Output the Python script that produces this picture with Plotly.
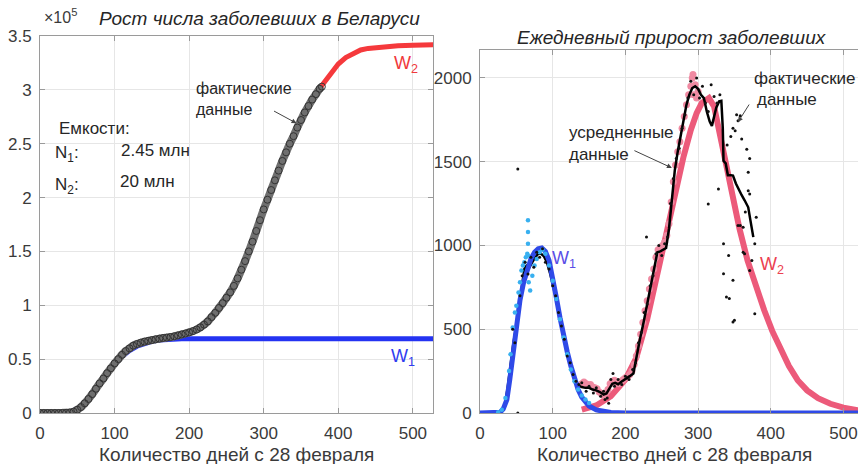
import plotly.graph_objects as go

FONT = "Liberation Sans, Arial, sans-serif"

# ---------------- Left panel: cumulative cases (x10^5) ----------------
cum_days = list(range(0, 376, 5)) + [378]
cum_cases_e5 = [0, 0, 0, 0, 0, 0, 0.001, 0.002, 0.004, 0.012,
                0.03, 0.055, 0.09, 0.13, 0.175, 0.225, 0.275, 0.32, 0.37, 0.415,
                0.46, 0.50, 0.54, 0.575, 0.60, 0.625, 0.64, 0.652, 0.662, 0.67,
                0.677, 0.684, 0.69, 0.696, 0.70, 0.705, 0.712, 0.72, 0.729, 0.738,
                0.748, 0.76, 0.775, 0.795, 0.82, 0.85, 0.89, 0.93, 0.975, 1.02,
                1.07, 1.12, 1.18, 1.25, 1.33, 1.41, 1.50, 1.59, 1.69, 1.79,
                1.89, 1.98, 2.07, 2.16, 2.25, 2.34, 2.42, 2.50, 2.57, 2.65,
                2.72, 2.79, 2.85, 2.91, 2.96, 3.01, 3.03]

w1_cum_days = [0, 20, 30, 40, 50, 60, 70, 80, 90, 100, 110, 120, 130, 140, 150,
               160, 170, 180, 190, 200, 250, 300, 400, 500, 528]
w1_cum_e5 = [0, 0, 0.002, 0.01, 0.04, 0.095, 0.175, 0.27, 0.365, 0.45, 0.525, 0.58,
             0.62, 0.648, 0.665, 0.677, 0.684, 0.688, 0.69, 0.69, 0.69, 0.69, 0.69,
             0.69, 0.69]

w2_cum_days = [200, 220, 240, 260, 280, 300, 320, 340, 360, 378, 390, 400, 410,
               420, 430, 440, 460, 480, 500, 528]
w2_cum_e5 = [0.75, 0.81, 0.96, 1.17, 1.49, 1.88, 2.25, 2.57, 2.85, 3.04, 3.15,
             3.24, 3.30, 3.34, 3.37, 3.385, 3.40, 3.41, 3.415, 3.42]

left_x_ticks = [0, 100, 200, 300, 400, 500]
left_y_ticks = [0, 0.5, 1, 1.5, 2, 2.5, 3, 3.5]
left_y_labels = ["0", "0.5", "1", "1.5", "2", "2.5", "3", "3.5"]

# ---------------- Right panel: daily increments ----------------
w1_days = [0, 20, 28, 32, 37, 41, 46, 50, 55, 60, 65, 70, 75, 80, 85, 90, 95, 100,
           105, 110, 115, 120, 125, 130, 135, 140, 145, 150, 160, 170, 180, 190,
           200, 300, 400, 520]
w1_daily = [0, 0, 5, 25, 80, 200, 375, 510, 673, 780, 860, 920, 960, 980, 985, 965,
            910, 810, 690, 570, 460, 365, 280, 200, 140, 95, 65, 42, 18, 7, 3, 1,
            0, 0, 0, 0]

w2_days = [140, 160, 180, 200, 215, 230, 245, 260, 270, 280, 290, 298, 305, 315,
           322, 327, 335, 346, 357, 368, 380, 391, 402, 414, 425, 437, 450, 465,
           482, 500, 514, 520]
w2_daily = [20, 45, 100, 200, 330, 560, 850, 1150, 1350, 1530, 1690, 1790, 1850,
            1880, 1830, 1720, 1560, 1310, 1100, 911, 750, 613, 490, 375, 280, 196,
            135, 88, 55, 32, 20, 16]

wave1_pts_days = [25, 30, 35, 40, 42, 45, 48, 50, 53, 55, 57, 59, 61, 63, 65, 66,
                  66, 66, 66, 67, 69, 72, 75, 78, 82, 86, 90, 95, 100, 105, 110,
                  115, 120, 125, 130, 135, 140, 145, 150]
wave1_pts_vals = [5, 20, 90, 250, 350, 510, 600, 640, 720, 780, 850, 880, 900, 930,
                  950, 1010, 1080, 1150, 940, 780, 732, 820, 880, 920, 960, 975, 950,
                  880, 790, 680, 560, 450, 350, 260, 190, 140, 105, 80, 60]

wave2_pts_days = [140, 143, 146, 149, 152, 155, 158, 161, 164, 167, 170, 173, 176,
                  179, 182, 185, 188, 191, 194, 197, 200, 203, 206, 209, 212, 215,
                  218, 221, 224, 227, 230, 233, 236, 239, 242, 245, 248, 251, 254,
                  257, 260, 263, 266, 269, 272, 275, 278, 281, 284, 287, 290, 292,
                  293, 294, 296, 298, 300]
wave2_pts_vals = [175, 185, 175, 165, 170, 155, 150, 145, 125, 115, 105, 120, 140,
                  175, 190, 195, 180, 175, 190, 200, 210, 215, 230, 250, 290, 340,
                  400, 470, 540, 610, 670, 740, 800, 860, 930, 975, 985, 1000, 1020,
                  1060, 1130, 1260, 1380, 1480, 1560, 1620, 1700, 1770, 1840, 1900,
                  1950, 2000, 2020, 1900, 1960, 1880, 1920]

avg_days = [0, 10, 20, 25, 30, 34, 38, 42, 46, 50, 54, 58, 61, 64, 68, 72, 76, 80,
            84, 88, 92, 96, 100, 105, 110, 115, 120, 125, 130, 135, 140, 145, 150,
            155, 160, 165, 170, 174, 178, 182, 186, 190, 194, 198, 202, 206, 211,
            215, 220, 225, 229, 233, 237, 241, 244, 248, 252, 256, 260, 264, 268,
            272, 276, 280, 284, 288, 292, 296, 300, 304, 308, 312, 316, 319, 322,
            325, 329, 332, 334, 335, 338, 341, 345, 348, 352, 356, 360, 364, 369,
            372, 376]
avg_daily = [0, 0, 0, 3, 10, 40, 150, 300, 420, 520, 640, 760, 860, 880, 870, 900,
             930, 950, 950, 935, 900, 840, 770, 680, 570, 455, 350, 270, 210, 165,
             155, 150, 150, 140, 135, 125, 110, 117, 150, 175, 180, 172, 185, 195,
             205, 220, 236, 330, 440, 540, 633, 720, 800, 900, 960, 965, 975, 985,
             1100, 1300, 1450, 1560, 1650, 1740, 1840, 1900, 1940, 1950, 1935, 1900,
             1880, 1800, 1740, 1714, 1780, 1823, 1860, 1863, 1700, 1506, 1490, 1420,
             1420, 1417, 1370, 1330, 1300, 1270, 1228, 1150, 1050]

raw_days = [45, 48, 52, 52, 55, 58, 62, 66, 70, 74, 78, 82, 86, 90, 95, 100, 104,
            108, 112, 116, 120, 124, 128, 132, 136, 140, 146, 150, 156, 160, 166,
            170, 172, 175, 177, 180, 183, 185, 190, 195, 200, 205, 210, 214, 218,
            222, 226, 229, 230, 234, 238, 242, 246, 250, 254, 258, 262, 266, 270,
            274, 278, 282, 286, 290, 294, 298, 302, 306, 310, 314, 318, 322, 326,
            330, 314, 328, 335, 342, 335, 348, 343, 350, 364, 371, 378, 358, 362,
            371, 369, 371, 367, 355, 360, 353, 348, 380, 339, 348, 374, 369, 355,
            362, 351, 358, 378, 365, 345, 340]
raw_daily = [500, 420, 1456, 0, 700, 820, 900, 830, 930, 870, 960, 930, 980, 900,
             860, 760, 700, 600, 520, 440, 340, 300, 230, 190, 170, 180, 130, 160,
             120, 150, 100, 130, 80, 90, 58, 200, 236, 160, 200, 170, 220, 200, 260,
             300, 420, 480, 600, 1050, 650, 760, 820, 950, 1000, 940, 1010, 1050,
             1250, 1400, 1520, 1580, 1700, 1780, 1880, 1980, 1900, 2000, 1880, 1950,
             1850, 1800, 1960, 1890, 1850, 1900, 1248, 1337, 1010, 940, 831, 792, 683,
             554, 950, 851, 593, 1119, 1109, 1308, 1437, 1520, 1575, 1744, 1635, 1780,
             1700, 1168, 692, 543, 911, 1327, 1119, 960, 1685, 1774, 1010, 1200, 1650,
             1600]

right_x_ticks = [0, 100, 200, 300, 400, 500]
right_y_ticks = [0, 500, 1000, 1500, 2000]

# ---------------- Figure ----------------
fig = go.Figure()

# left panel
fig.add_trace(go.Scatter(x=w1_cum_days, y=w1_cum_e5, mode="lines",
                         line=dict(color="#2433f2", width=5), xaxis="x", yaxis="y"))
fig.add_trace(go.Scatter(x=w2_cum_days, y=w2_cum_e5, mode="lines",
                         line=dict(color="#f5393c", width=5), xaxis="x", yaxis="y"))
fig.add_trace(go.Scatter(x=cum_days, y=cum_cases_e5, mode="lines+markers",
                         line=dict(color="#6f6f6f", width=8, shape="spline"),
                         marker=dict(symbol="circle-open", size=7, color="#333333",
                                     line=dict(width=1)),
                         xaxis="x", yaxis="y"))

# right panel
fig.add_trace(go.Scatter(x=w2_days, y=w2_daily, mode="lines",
                         line=dict(color="#ec5a7a", width=6), xaxis="x2", yaxis="y2"))
fig.add_trace(go.Scatter(x=wave2_pts_days, y=wave2_pts_vals, mode="markers",
                         marker=dict(size=7, color="#f08aa2"), xaxis="x2", yaxis="y2"))
fig.add_trace(go.Scatter(x=avg_days, y=avg_daily, mode="lines",
                         line=dict(color="#000000", width=2.5), xaxis="x2", yaxis="y2"))
fig.add_trace(go.Scatter(x=w1_days, y=w1_daily, mode="lines",
                         line=dict(color="#2f4ae8", width=5), xaxis="x2", yaxis="y2"))
fig.add_trace(go.Scatter(x=wave1_pts_days, y=wave1_pts_vals, mode="markers",
                         marker=dict(size=4.5, color="#38b0f0"), xaxis="x2", yaxis="y2"))
fig.add_trace(go.Scatter(x=raw_days, y=raw_daily, mode="markers",
                         marker=dict(size=3, color="#111111"), xaxis="x2", yaxis="y2"))

axis_common = dict(showgrid=True, gridcolor="#e6e6e6", gridwidth=1, zeroline=False,
                   showline=True, linecolor="#9a9a9a", linewidth=1, ticks="inside",
                   ticklen=5, tickcolor="#9a9a9a", automargin=False,
                   tickfont=dict(size=17, color="#3a3a3a", family=FONT))

W, H = 858, 464
fig.update_layout(
    width=W, height=H, margin=dict(l=0, r=0, t=0, b=0, pad=0, autoexpand=False),
    paper_bgcolor="white", plot_bgcolor="white", showlegend=False,
    font=dict(family=FONT, color="#262626"),
    xaxis=dict(axis_common, domain=[40 / W, 433 / W], range=[0, 527],
               tickvals=left_x_ticks, mirror="ticks", anchor="y", ticklabelstandoff=5),
    yaxis=dict(axis_common, domain=[51 / H, 428 / H], range=[0, 3.5],
               tickvals=left_y_ticks, ticktext=left_y_labels, mirror="ticks",
               anchor="x", ticklabelstandoff=4),
    xaxis2=dict(axis_common, domain=[480 / W, 1.0], range=[0, 520],
                tickvals=right_x_ticks, mirror="ticks", anchor="y2", ticklabelstandoff=5),
    yaxis2=dict(axis_common, domain=[51 / H, 414 / H], range=[0, 2167],
                tickvals=right_y_ticks, mirror=False, anchor="x2", ticklabelstandoff=4),
)

txt = dict(size=17, color="#262626", family=FONT)
arrow_col = "#444444"


def paper(xpx, ypx, text, font, xanchor="center", align="center"):
    return dict(xref="paper", yref="paper", x=xpx / W, y=1 - ypx / H, text=text,
                showarrow=False, font=font, xanchor=xanchor, yanchor="middle",
                align=align)


def arr(xr, yr, x, y, ax, ay):
    return dict(xref=xr, yref=yr, x=x, y=y, ax=ax, ay=ay, text="", showarrow=True,
                arrowhead=2, arrowsize=1, arrowwidth=1, arrowcolor=arrow_col)


ann = []
ann.append(paper(259, 18, "<i>Рост числа заболевших в Беларуси</i>",
                 dict(size=19, color="#262626", family=FONT)))
ann.append(paper(672, 37, "<i>Ежедневный прирост заболевших</i>",
                 dict(size=19, color="#262626", family=FONT)))
ann.append(paper(42, 16, "×10<sup>5</sup>", dict(size=16, color="#3a3a3a", family=FONT),
                 xanchor="left"))
ann.append(paper(237, 454, "Количество дней с 28 февраля",
                 dict(size=19, color="#3a3a3a", family=FONT)))
ann.append(paper(674, 454, "Количество дней с 28 февраля",
                 dict(size=19, color="#3a3a3a", family=FONT)))

# left panel labels
ann.append(paper(194, 99, "фактические<br>данные",
                 dict(size=16, color="#262626", family=FONT), "left", "left"))
ann.append(arr("x", "y", 344, 2.69, -24, -13))
ann.append(paper(57, 128, "Емкости:", txt, "left"))
ann.append(paper(53, 154, "N<sub>1</sub>:", txt, "left"))
ann.append(paper(119, 150, "2.45 млн", txt, "left"))
ann.append(paper(53, 186, "N<sub>2</sub>:", txt, "left"))
ann.append(paper(118, 182, "20 млн", txt, "left"))
ann.append(paper(389, 357, "W<sub>1</sub>", dict(size=18, color="#2f3cf0", family=FONT), "left"))
ann.append(paper(392, 64, "W<sub>2</sub>", dict(size=18, color="#f0383c", family=FONT), "left"))

# right panel labels
ann.append(paper(752, 78, "фактические", txt, "left"))
ann.append(paper(755, 100, "данные", txt, "left"))
ann.append(arr("x2", "y2", 355, 1737, 12, -19))
ann.append(paper(567, 132, "усредненные", txt, "left"))
ann.append(paper(567, 154, "данные", txt, "left"))
ann.append(arr("x2", "y2", 264, 1463, -39, -18))
ann.append(paper(550, 259, "W<sub>1</sub>", dict(size=18, color="#5a4de6", family=FONT), "left"))
ann.append(paper(758, 265, "W<sub>2</sub>", dict(size=18, color="#ec4050", family=FONT), "left"))
fig.update_layout(annotations=ann)

fig.write_html("out.html", config={"displayModeBar": False},
               post_script="document.body.style.margin='0';")
